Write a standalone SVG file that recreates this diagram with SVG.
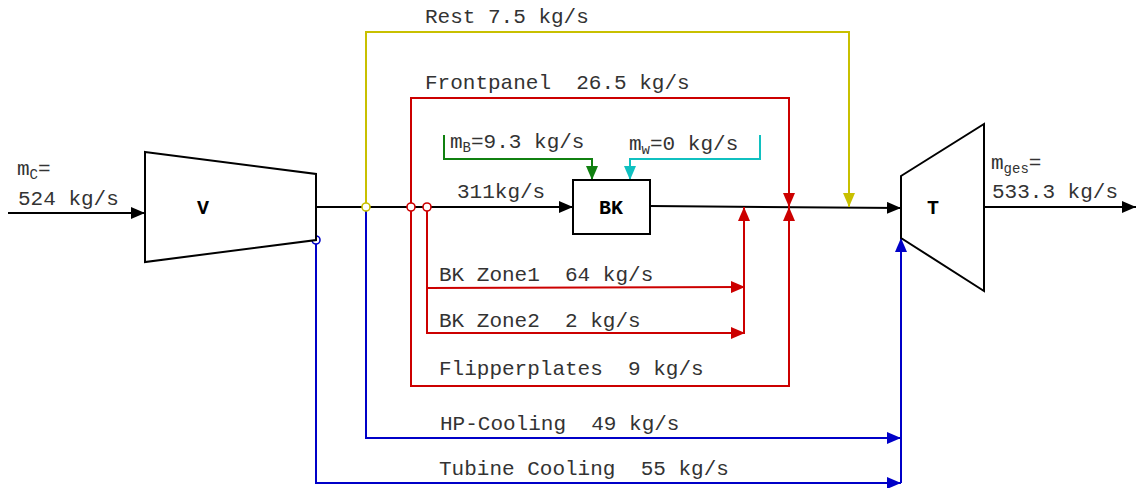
<svg xmlns="http://www.w3.org/2000/svg" width="1136" height="488" viewBox="0 0 1136 488" xml:space="preserve">
<style>
  .lbl { font-family: "Liberation Mono", "Courier New", monospace; font-size: 21px; fill: #333; white-space: pre; }
  .sub { font-size: 14px; }
  .node-lbl { font-family: "Liberation Mono", "Courier New", monospace; font-size: 20px; font-weight: bold; fill: #000; text-anchor: middle; }
  .shape { fill: #fff; stroke: #000; stroke-width: 2; }
  .c { fill: none; stroke-width: 2; }
  .k { stroke: #000; }
  .r { stroke: #cc0000; }
  .y { stroke: #c8c000; }
  .g { stroke: #108010; }
  .cy { stroke: #10c0c0; }
  .b { stroke: #0000c8; }
  .j { fill: #fff; stroke-width: 1.6; }
</style>
<defs>
  <marker id="ak" markerUnits="userSpaceOnUse" markerWidth="14" markerHeight="12" viewBox="0 0 14 12" refX="14" refY="6" orient="auto"><path d="M0,0 L14,6 L0,12 z" fill="#000"/></marker>
  <marker id="ar" markerUnits="userSpaceOnUse" markerWidth="14" markerHeight="12" viewBox="0 0 14 12" refX="14" refY="6" orient="auto"><path d="M0,0 L14,6 L0,12 z" fill="#cc0000"/></marker>
  <marker id="ay" markerUnits="userSpaceOnUse" markerWidth="14" markerHeight="12" viewBox="0 0 14 12" refX="14" refY="6" orient="auto"><path d="M0,0 L14,6 L0,12 z" fill="#c8c000"/></marker>
  <marker id="ag" markerUnits="userSpaceOnUse" markerWidth="14" markerHeight="12" viewBox="0 0 14 12" refX="14" refY="6" orient="auto"><path d="M0,0 L14,6 L0,12 z" fill="#108010"/></marker>
  <marker id="ac" markerUnits="userSpaceOnUse" markerWidth="14" markerHeight="12" viewBox="0 0 14 12" refX="14" refY="6" orient="auto"><path d="M0,0 L14,6 L0,12 z" fill="#10c0c0"/></marker>
  <marker id="ab" markerUnits="userSpaceOnUse" markerWidth="14" markerHeight="12" viewBox="0 0 14 12" refX="14" refY="6" orient="auto"><path d="M0,0 L14,6 L0,12 z" fill="#0000c8"/></marker>
</defs>

<g id="connectors">
  <path class="c k" d="M8,213 H145" marker-end="url(#ak)"/>
  <path class="c k" d="M316,207 H573" marker-end="url(#ak)"/>
  <path class="c k" d="M650,206 L901,208" marker-end="url(#ak)"/>
  <path class="c k" d="M984,207 H1136" marker-end="url(#ak)"/>

  <path class="c y" d="M366,207 V32 H849 V207" marker-end="url(#ay)"/>

  <path class="c r" d="M411,207 V98 H789 V207" marker-end="url(#ar)"/>
  <path class="c r" d="M411,207 V386 H789 V207" marker-end="url(#ar)"/>
  <path class="c r" d="M427,207 V333 H745" marker-end="url(#ar)"/>
  <path class="c r" d="M427,288 L745,287" marker-end="url(#ar)"/>
  <path class="c r" d="M744,333 V207" marker-end="url(#ar)"/>

  <path class="c g" d="M444,135 V159 H592 V180" marker-end="url(#ag)"/>
  <path class="c cy" d="M760,135 V159 H630 V180" marker-end="url(#ac)"/>

  <path class="c b" d="M366,207 V438 H901" marker-end="url(#ab)"/>
  <path class="c b" d="M316,240 V483 H901" marker-end="url(#ab)"/>
  <path class="c b" d="M901,483 V238" marker-end="url(#ab)"/>

  <circle class="j y" cx="366" cy="207" r="4"/>
  <circle class="j r" cx="411" cy="207" r="4"/>
  <circle class="j r" cx="427" cy="207" r="4"/>
  <circle class="j b" cx="316" cy="240" r="4"/>
</g>

<g id="node-V">
  <polygon class="shape" points="145,152 316,174 316,240 145,262"/>
  <text class="node-lbl" x="203" y="214">V</text>
</g>
<g id="node-BK">
  <rect class="shape" x="573" y="180" width="77" height="54"/>
  <text class="node-lbl" x="611" y="214">BK</text>
</g>
<g id="node-T">
  <polygon class="shape" points="901,176 984,124 984,291 901,238"/>
  <text class="node-lbl" x="933" y="214">T</text>
</g>

<g id="labels">
  <text class="lbl" x="17" y="175">m<tspan class="sub" dy="4">C</tspan><tspan dy="-4">=</tspan></text>
  <text class="lbl" x="18" y="205">524 kg/s</text>
  <text class="lbl" x="991" y="169">m<tspan class="sub" dy="4">ges</tspan><tspan dy="-4">=</tspan></text>
  <text class="lbl" x="992" y="198">533.3 kg/s</text>
  <text class="lbl" x="425" y="23">Rest 7.5 kg/s</text>
  <text class="lbl" x="425" y="89">Frontpanel  26.5 kg/s</text>
  <text class="lbl" x="450" y="148">m<tspan class="sub" dy="4">B</tspan><tspan dy="-4">=9.3 kg/s</tspan></text>
  <text class="lbl" x="629" y="150">m<tspan class="sub" dy="4">w</tspan><tspan dy="-4">=0 kg/s</tspan></text>
  <text class="lbl" x="457" y="198">311kg/s</text>
  <text class="lbl" x="439" y="281">BK Zone1  64 kg/s</text>
  <text class="lbl" x="439" y="327">BK Zone2  2 kg/s</text>
  <text class="lbl" x="439" y="375">Flipperplates  9 kg/s</text>
  <text class="lbl" x="440" y="430">HP-Cooling  49 kg/s</text>
  <text class="lbl" x="439" y="475">Tubine Cooling  55 kg/s</text>
</g>
</svg>
